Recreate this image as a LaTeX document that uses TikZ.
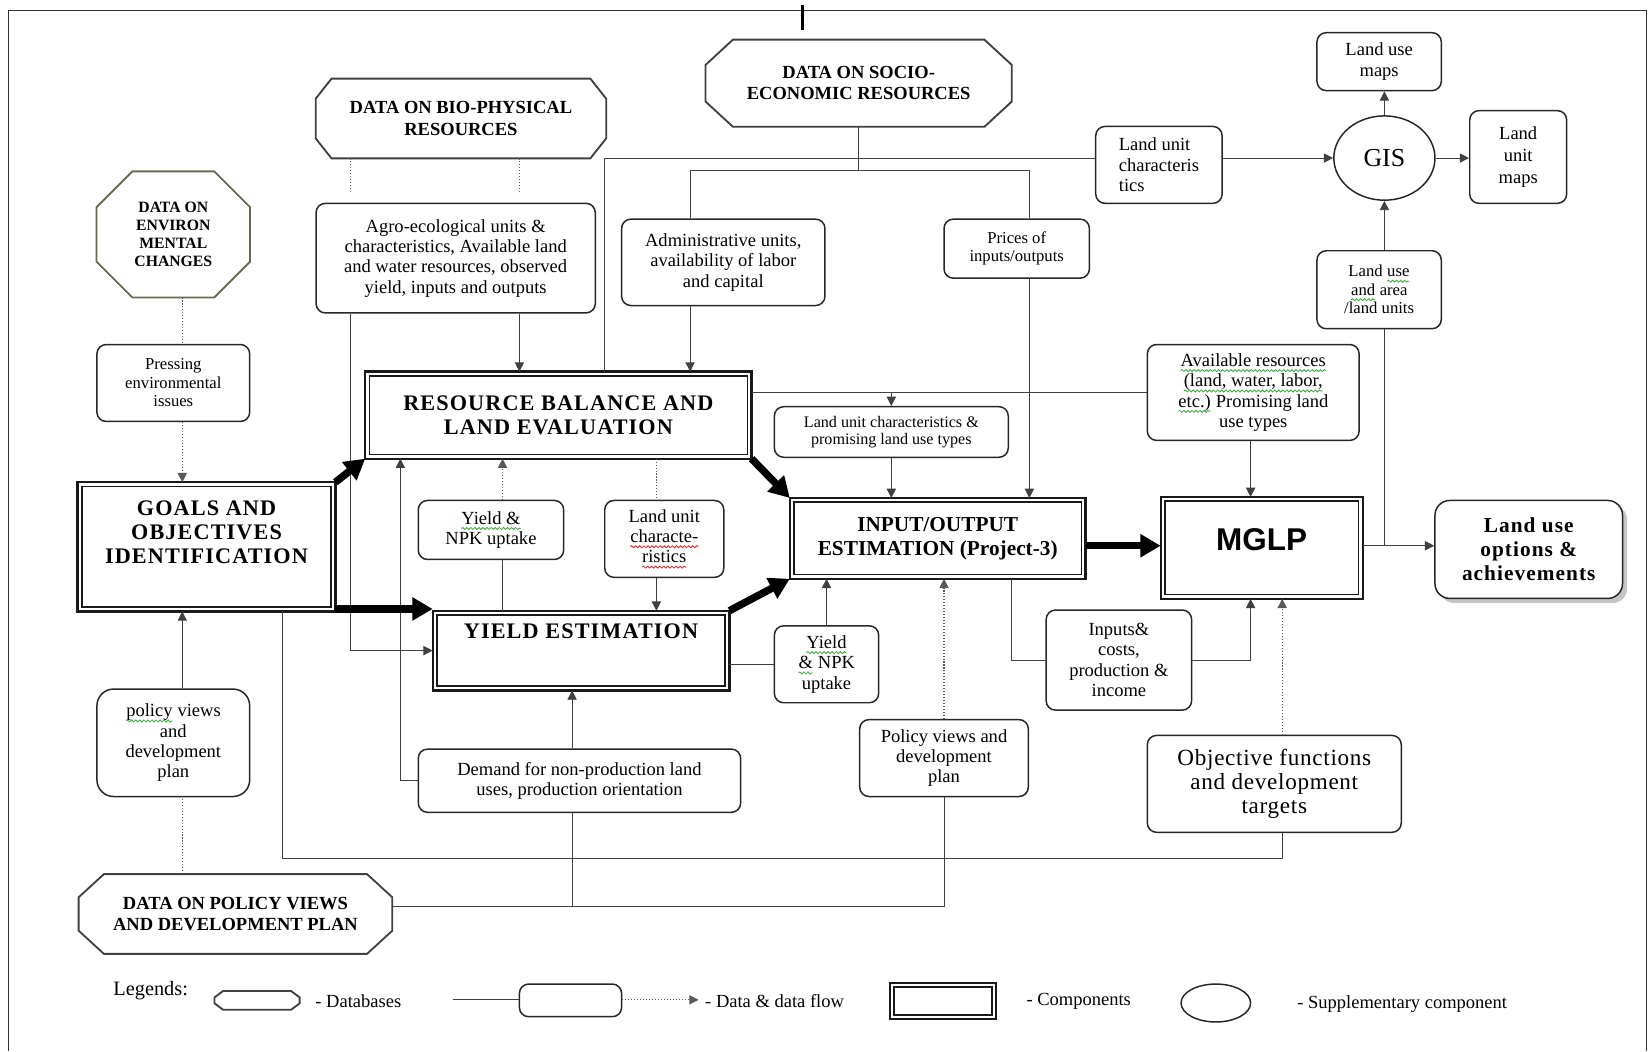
\documentclass[tikz,border=0pt]{standalone}
\usepackage{fontspec}
\setmainfont{Liberation Serif}
\newfontfamily\mysans{Liberation Sans}
\usetikzlibrary{arrows.meta,shadows,shapes.geometric,decorations.pathmorphing}
\definecolor{envc}{RGB}{105,105,80}
\definecolor{gwave}{RGB}{60,170,60}
\definecolor{rwave}{RGB}{220,40,40}
\newcommand\wv[2]{\tikz[baseline=(w.base)]{\node[shape=rectangle, draw=none, fill=none, inner sep=0pt, outer sep=0pt, minimum width=0pt, minimum height=0pt, anchor=base, text=black] (w) at (0,0) {#2}; \draw[draw=#1, line width=0.45pt, rounded corners=0pt, decorate, decoration={snake, amplitude=0.55pt, segment length=2.2pt}] ([yshift=-2.3pt]w.base west) -- ([yshift=-2.3pt]w.base east);}}
\newcommand\gw[1]{\wv{gwave}{#1}}
\newcommand\rw[1]{\wv{rwave}{#1}}
\newcommand\fbody{\fontsize{10}{11}\selectfont}
\newcommand\fsm{\fontsize{9}{10}\selectfont}
\newcommand\fdb{\fontsize{10}{11.5}\selectfont\bfseries}
\newcommand\fenv{\fontsize{8.5}{9.6}\selectfont\bfseries}
\newcommand\fhead{\fontsize{12}{13}\selectfont\bfseries\addfontfeature{LetterSpace=5}}
\newcommand\fio{\fontsize{11.5}{13}\selectfont\bfseries}
\newcommand\fopt{\fontsize{11.5}{13}\selectfont\bfseries\addfontfeature{LetterSpace=5}}
\newcommand\fobj{\fontsize{12.5}{13}\selectfont\addfontfeature{LetterSpace=3}}
\newcommand\ftiny{\fontsize{8.7}{9.2}\selectfont}
\newcommand\mybx[7]{\node[#6, minimum width={(#4-#2)*0.02cm}, minimum height={(#5-#3)*0.02cm}] (#1) at ({(#2+#4)/2},{(#3+#5)/2}) {#7};}
\newcommand\mytrip[1]{%
  \draw[line width=1.2pt, black!90] (#1.south west) rectangle (#1.north east);
  \draw[line width=0.9pt, black!90] ([shift={(4,-4)}]#1.south west) rectangle ([shift={(-4,4)}]#1.north east);}
\newcommand\myoct[4]{%
  \draw[line width=1pt, draw=#4] ([shift={(#2,0)}]#1.north west) -- ([shift={(-#2,0)}]#1.north east) -- ([shift={(0,#3)}]#1.north east) -- ([shift={(0,-#3)}]#1.south east) -- ([shift={(-#2,0)}]#1.south east) -- ([shift={(#2,0)}]#1.south west) -- ([shift={(0,-#3)}]#1.south west) -- ([shift={(0,#3)}]#1.north west) -- cycle;}
\tikzset{
  rbox/.style={draw=black!85, line width=0.8pt, rounded corners=5pt, align=center, inner sep=0pt, fill=white, font=\fbody},
  cbox/.style={draw=none, align=center, inner sep=0pt},
  dbox/.style={draw=none, align=center, inner sep=0pt},
  thinln/.style={draw=black!75, line width=0.5pt},
  thinarr/.style={thinln, -{Triangle[length=5pt,width=5pt]}},
  dotln/.style={draw=black!65, line width=0.6pt, densely dotted},
  dotarr/.style={dotln, -{Triangle[length=5pt,width=5pt]}},
  bigarr/.style={line width=4pt, -{Triangle[length=11pt,width=12pt]}},
}
\begin{document}
\begin{tikzpicture}[x=0.02cm, y=-0.02cm]
\useasboundingbox (0,0) rectangle (1568,998);
% frame
\draw[line width=0.8pt, black!80] (8,998) -- (8,10) -- (1563,10) -- (1563,998);
\draw[line width=1.5pt] (762,5) -- (762,28);

% databases
\mybx{bio}{300}{75}{575}{150}{dbox,font=\fdb}{DATA ON BIO-PHYSICAL\\RESOURCES}
\myoct{bio}{15}{19}{black!75}
\mybx{socio}{670}{38}{960}{120}{dbox,font=\fdb}{DATA ON SOCIO-\\ECONOMIC RESOURCES}
\myoct{socio}{26}{24}{black!75}
\mybx{env}{92}{163}{237}{282}{dbox,font=\fenv}{DATA ON\\ENVIRON\\MENTAL\\CHANGES}
\myoct{env}{34}{34}{envc}
\mybx{pdb}{75}{830}{372}{905}{dbox,font=\fdb}{DATA ON POLICY VIEWS\\AND DEVELOPMENT PLAN}
\myoct{pdb}{24}{22}{black!75}

% data boxes
\mybx{press}{92}{327}{237}{400}{rbox,font=\fsm}{Pressing\\environmental\\issues}
\mybx{pl}{92}{654}{237}{756}{rbox,rounded corners=9pt}{\gw{policy} views\\and\\development\\plan}
\mybx{agro}{300}{193}{565}{297}{rbox}{Agro-ecological units \&\\characteristics, Available land\\and water resources, observed\\yield, inputs and outputs}
\mybx{admin}{590}{208}{783}{290}{rbox}{Administrative units,\\availability of labor\\and capital}
\mybx{prices}{896}{208}{1034}{264}{rbox,font=\fsm}{Prices of\\inputs/outputs}
\mybx{luct}{1040}{120}{1160}{193}{rbox,align=left}{Land unit\\characteris\\tics}
\mybx{lum}{1250}{31}{1368}{86}{rbox}{Land use\\maps}
\node[draw=black!85, line width=0.8pt, ellipse, inner sep=0pt, minimum width={96*0.02cm}, minimum height={80*0.02cm}, font=\fontsize{14}{16}\selectfont] (gis) at (1314,150) {GIS};
\mybx{lunm}{1395}{105}{1487}{193}{rbox,font=\fontsize{10}{12}\selectfont}{Land\\unit\\maps}
\mybx{luaa}{1250}{238}{1368}{312}{rbox,font=\fsm}{Land \gw{use}\\\gw{and} area\\/land units}
\mybx{avail}{1089}{327}{1290}{418}{rbox}{\gw{Available resources}\\\gw{(land, water, labor,}\\\gw{etc.)} Promising land\\use types}
\mybx{lucp}{735}{386}{957}{434}{rbox,font=\ftiny}{Land unit characteristics \&\\promising land use types}
\mybx{yl}{397}{475}{535}{531}{rbox}{\gw{Yield \&}\\NPK uptake}
\mybx{luc}{574}{475}{687}{548}{rbox}{Land unit\\\rw{characte-}\\\rw{ristics}}
\mybx{yr}{735}{594}{834}{667}{rbox}{\gw{Yield}\\\gw{\&} NPK\\uptake}
\mybx{inp}{993}{579}{1131}{674}{rbox}{Inputs\&\\costs,\\production \&\\income}
\mybx{dem}{397}{711}{703}{771}{rbox}{Demand for non-production land\\uses, production orientation}
\mybx{pr}{816}{683}{976}{756}{rbox}{Policy views and\\development\\plan}
\mybx{obj}{1089}{698}{1330}{790}{rbox,font=\fobj}{Objective functions\\and development\\targets}
\mybx{opt}{1362}{475}{1540}{568}{rbox,rounded corners=8pt,font=\fopt,drop shadow={shadow xshift=2.5pt,shadow yshift=-2.5pt,fill=black!45}}{Land use\\options \&\\achievements}

% components
\mybx{goals}{74}{458}{318}{580}{cbox,label={[anchor=north,yshift=-10pt,inner sep=0pt,align=center,font=\fhead]north:GOALS AND\\OBJECTIVES\\IDENTIFICATION}}{}
\mytrip{goals}
\mybx{rb}{347}{353}{713}{435}{cbox,font=\fhead}{RESOURCE BALANCE AND\\LAND EVALUATION}
\mytrip{rb}
\mybx{ye}{411}{580}{692}{655}{cbox,label={[anchor=north,yshift=-7pt,inner sep=0pt,font=\fhead]north:YIELD ESTIMATION}}{}
\mytrip{ye}
\mybx{io}{750}{473}{1030}{549}{cbox,font=\fio}{INPUT/OUTPUT\\ESTIMATION (Project-3)}
\mytrip{io}
\mybx{mglp}{1102}{472}{1293}{568}{cbox,label={[anchor=north,yshift=-17pt,inner sep=0pt,font=\mysans\bfseries\fontsize{17}{19}\selectfont]north:MGLP}}{}
\mytrip{mglp}

% connectors
\coordinate (sj) at (815,162);
\coordinate (gb) at (268,815);
\coordinate (dj) at (543,860);
\coordinate (jn) at (1314,518);

\draw[dotln, shorten >=6pt] (bio.south -| 333,0) -- (agro.north -| 333,0);
\draw[dotln, shorten >=6pt] (bio.south -| 493,0) -- (agro.north -| 493,0);
\draw[thinarr] (agro.south -| 493,0) -- (rb.north -| 493,0);
\draw[thinarr] (agro.south -| 333,0) |- (ye.west);
\draw[thinarr] (dem.west) -| (rb.south -| 380,0);
\draw[dotarr] (yl.north -| 477,0) -- (rb.south -| 477,0);
\draw[thinln] (yl.south -| 477,0) -- (ye.north -| 477,0);
\draw[dotln] (rb.south -| 623,0) -- (luc.north -| 623,0);
\draw[thinarr] (luc.south -| 623,0) -- (ye.north -| 623,0);

\draw[thinln] (socio.south -| sj) -- (sj);
\draw[thinln] (admin.north -| 655,0) |- (sj) -| (prices.north -| 977,0);
\draw[thinarr] (admin.south -| 655,0) -- (rb.north -| 655,0);
\draw[thinln] (rb.north -| 574,0) |- (luct.west |- 0,150);
\draw[thinarr] (luct.east |- gis.west) -- (gis.west);
\draw[thinarr] (gis.north) -- (lum.south -| gis.north);
\draw[thinarr] (gis.east) -- (lunm.west |- gis.east);
\draw[thinarr] (luaa.north -| gis.south) -- (gis.south);
\draw[thinln] (luaa.south -| jn) -- (jn);
\draw[thinarr] (mglp.east |- jn) -- (opt.west |- jn);

\draw[thinarr] (avail.south -| 1187,0) -- (mglp.north -| 1187,0);
\draw[thinln] (avail.west) -- (rb.east |- avail.west);
\draw[thinarr] (lucp.north |- avail.west) -- (lucp.north);
\draw[thinarr] (lucp.south) -- (io.north -| lucp.south);
\draw[thinarr] (prices.south -| 977,0) -- (io.north -| 977,0);

\draw[thinarr] (yr.north) -- (io.south -| yr.north);
\draw[thinln] (ye.east |- yr.west) -- (yr.west);
\draw[thinln] (io.south -| 960,0) |- (inp.west);
\draw[thinarr] (inp.east) -| (mglp.south -| 1187,0);
\draw[dotarr] (obj.north -| 1217,0) -- (mglp.south -| 1217,0);
\draw[thinln] (goals.south -| gb) -- (gb) -| (obj.south -| 1217,0);
\draw[thinln] (pdb.east |- dj) -| (pr.south);
\draw[thinln] (dem.south -| dj) -- (dj);
\draw[thinarr] (dem.north -| dj) -- (ye.south -| dj);
\draw[dotarr] (pr.north) -- (io.south -| pr.north);

\draw[dotln] (env.south -| 173,0) -- (press.north -| 173,0);
\draw[dotarr] (press.south -| 173,0) -- (goals.north -| 173,0);
\draw[thinarr] (pl.north -| 173,0) -- (goals.south -| 173,0);
\draw[dotln] (pdb.north -| 173,0) -- (pl.south -| 173,0);

% thick flows
\draw[bigarr] (goals.north east) -- (rb.south west);
\draw[bigarr] (goals.south east |- 0,578) -- (ye.west |- 0,578);
\draw[bigarr] (rb.south east) -- (io.north west);
\draw[bigarr] (ye.north east) -- (io.south west);
\draw[bigarr] (io.east |- 0,518) -- (mglp.west |- 0,518);

% legend
\node[font=\fontsize{11}{12}\selectfont, inner sep=0pt] (lgt) at (143,940) {Legends:};
\mybx{lgdb}{204}{941}{284}{958}{dbox}{}
\myoct{lgdb}{8}{6}{black!75}
\node[anchor=west, font=\fbody, inner sep=0pt] (lg1) at (299,950) {- Databases};
\mybx{lgbox}{493}{934}{590}{965}{rbox}{}
\coordinate (lgs) at (430,949);
\coordinate (lge) at (663,949);
\draw[thinln] (lgs) -- (lgbox.west |- lgs);
\draw[dotarr] (lgbox.east |- lge) -- (lge);
\node[anchor=west, font=\fbody, inner sep=0pt] (lg2) at (669,950) {- Data \& data flow};
\mybx{lgcomp}{845}{933}{945}{967}{cbox}{}
\mytrip{lgcomp}
\node[anchor=west, font=\fbody, inner sep=0pt] (lg3) at (974,950) {- Components};
\node[draw=black!85, line width=0.8pt, ellipse, inner sep=0pt, minimum width={66*0.02cm}, minimum height={36*0.02cm}] (lgell) at (1154,952) {};
\node[anchor=west, font=\fbody, inner sep=0pt] (lg4) at (1231,953) {- Supplementary component};
\end{tikzpicture}
\end{document}
